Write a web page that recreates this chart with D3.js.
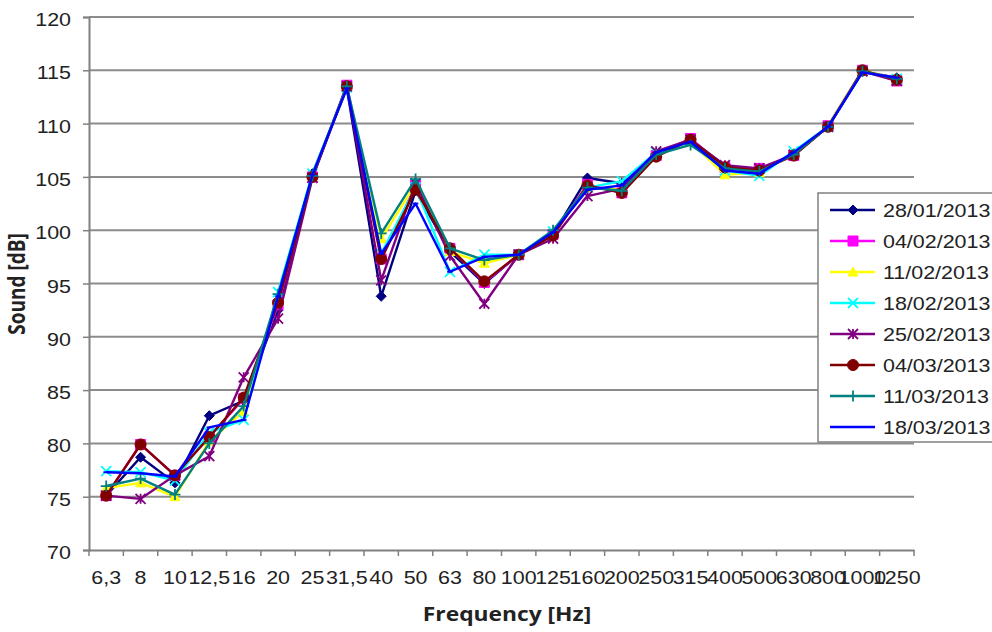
<!DOCTYPE html>
<html><head><meta charset="utf-8">
<script src="https://cdn.jsdelivr.net/npm/d3@7"></script>
<style>body{margin:0;background:#fff;}svg{display:block;}</style>
</head><body>
<svg id="c" width="992" height="632"></svg>
<script>
const categories = ["6,3","8","10","12,5","16","20","25","31,5","40","50","63","80","100","125","160","200","250","315","400","500","630","800","1000","1250"];
const seriesNames = ["28/01/2013","04/02/2013","11/02/2013","18/02/2013","25/02/2013","04/03/2013","11/03/2013","18/03/2013"];
const s2801 = [75.1,78.7,76.3,82.6,84.0,92.5,105.3,113.3,93.8,103.7,98.0,95.0,97.7,99.6,104.9,104.4,107.2,108.5,106.0,105.5,107.2,109.7,114.9,114.3];
const s0402 = [75.1,79.9,77.0,80.6,84.2,93.0,105.0,113.6,97.3,104.2,98.3,95.1,97.7,99.6,104.3,103.5,107.0,108.6,105.9,105.8,107.0,109.8,115.0,114.0];
const s1102 = [75.8,76.3,75.0,80.2,83.0,93.5,105.0,113.5,99.2,104.3,98.0,96.9,97.7,99.8,104.0,103.8,107.1,108.3,105.2,105.4,107.2,109.8,115.0,114.2];
const s1802 = [77.4,77.3,76.5,81.0,82.2,94.2,105.3,113.4,97.8,104.0,96.1,97.7,97.7,99.9,104.0,104.6,107.3,108.3,105.6,105.1,107.4,109.7,114.9,114.2];
const s2502 = [75.1,74.8,77.0,78.8,86.2,91.7,104.9,113.5,95.3,104.4,97.6,93.1,97.7,99.2,103.2,103.9,107.4,108.5,106.1,105.8,107.1,109.7,114.9,114.0];
const s0403 = [75.1,79.9,77.0,80.6,84.3,93.2,105.0,113.5,97.3,103.8,98.3,95.2,97.7,99.5,104.2,103.5,106.9,108.5,105.9,105.6,107.0,109.7,115.0,114.1];
const s1103 = [76.0,76.7,75.2,80.0,83.5,94.0,105.1,113.5,99.7,104.8,98.3,97.2,97.7,100.0,104.0,103.7,107.1,108.0,105.8,105.5,107.1,109.7,114.9,114.2];
const s1803 = [77.3,77.2,76.9,81.5,82.2,93.8,105.2,113.3,97.8,102.5,96.1,97.5,97.7,99.8,103.8,104.2,107.3,108.3,105.6,105.3,107.3,109.7,114.8,114.3];
const yTicks = [70,75,80,85,90,95,100,105,110,115,120];

const allSeries = [s2801,s0402,s1102,s1802,s2502,s0403,s1103,s1803];
const colors = ["#000080","#ff00ff","#ffff00","#00ffff","#800080","#800000","#008080","#0000ff"];
const markers = ["diamond","square","triangle","x","star","circle","plus","dash"];

const svg = d3.select("#c");
const L = 89, R = 914, T = 17, B = 550;
const x = d3.scaleBand().domain(categories).range([L, R]);
const y = d3.scaleLinear().domain([70,120]).range([B, T]);
const SX = 1.13;
const FONT = "Liberation Sans, Arial, sans-serif";

function stretchedText(g, px, py, txt, opts) {
  return g.append("text")
    .attr("transform", `translate(${px},${py}) scale(${opts.sx || SX},1)`)
    .attr("text-anchor", opts.anchor || "start")
    .attr("font-family", opts.family || FONT)
    .attr("font-weight", opts.weight || "normal")
    .attr("font-size", opts.size || 19)
    .attr("fill", "#222").text(txt);
}

// gridlines
svg.append("g").selectAll("line").data(yTicks.filter(v=>v>70)).join("line")
  .attr("x1", L).attr("x2", R).attr("y1", d=>y(d)).attr("y2", d=>y(d))
  .attr("stroke", "#8c8c8c").attr("stroke-width", 2);

// y axis
const ya = svg.append("g").attr("transform", `translate(${L},0)`)
  .call(d3.axisLeft(y).tickValues(yTicks).tickSize(6).tickFormat(""));
ya.select(".domain").attr("stroke", "#808080").attr("stroke-width", 2);
ya.selectAll(".tick line").attr("stroke", "#808080").attr("stroke-width", 1.5);
const yl = svg.append("g");
yTicks.forEach(v => stretchedText(yl, 71, y(v) + 9, d3.format("d")(v), {anchor: "end"}));

// x axis
const xa = svg.append("g").attr("transform", `translate(0,${B})`)
  .call(d3.axisBottom(x).tickSize(0).tickFormat(""));
xa.select(".domain").attr("stroke", "#808080").attr("stroke-width", 2);
svg.append("g").selectAll("line").data(d3.range(categories.length + 1)).join("line")
  .attr("x1", i => L + i * x.step()).attr("x2", i => L + i * x.step())
  .attr("y1", B).attr("y2", B + 6).attr("stroke", "#808080").attr("stroke-width", 1.5);
const xl = svg.append("g");
categories.forEach(c => stretchedText(xl, x(c) + x.bandwidth()/2, 584, c, {anchor: "middle"}));

function markerPath(type, s) {
  const h = s / 2;
  switch (type) {
    case "diamond": return `M0,${-h}L${h},0L0,${h}L${-h},0Z`;
    case "square": return `M${-h},${-h}H${h}V${h}H${-h}Z`;
    case "triangle": return `M0,${-h}L${h},${h*0.8}L${-h},${h*0.8}Z`;
    case "x": return `M${-h},${-h}L${h},${h}M${-h},${h}L${h},${-h}`;
    case "star": return `M${-h},${-h}L${h},${h}M${-h},${h}L${h},${-h}M0,${-h}V${h}`;
    case "circle": return `M${h},0A${h},${h} 0 1,1 ${-h},0A${h},${h} 0 1,1 ${h},0Z`;
    case "plus": return `M0,${-h}V${h}M${-h},0H${h}`;
    case "dash": return `M${-h*0.7},0H${h*0.7}`;
  }
}
const filled = {diamond:true, square:true, triangle:true, circle:true};
const msize = {diamond:10, square:10, triangle:10, x:10, star:10, circle:11, plus:11, dash:8};

const line = d3.line().x((d,i) => x(categories[i]) + x.bandwidth()/2).y(d => y(d));
allSeries.forEach((vals, si) => {
  const g = svg.append("g");
  g.append("path").datum(vals).attr("d", line).attr("fill", "none")
    .attr("stroke", colors[si]).attr("stroke-width", 2.4).attr("stroke-linejoin", "round");
  const m = markers[si];
  g.selectAll("path.m").data(vals).join("path").attr("class", "m")
    .attr("transform", (d,i) => `translate(${x(categories[i]) + x.bandwidth()/2},${y(d)})`)
    .attr("d", markerPath(m, msize[m]))
    .attr("fill", filled[m] ? colors[si] : "none")
    .attr("stroke", colors[si]).attr("stroke-width", filled[m] ? 1 : 1.8);
});

// axis titles
stretchedText(svg, 507, 621, "Frequency [Hz]", {anchor: "middle", family: "Open Sans, sans-serif", weight: "bold", size: 19, sx: 1.2});
svg.append("text").attr("transform", "translate(25,284) rotate(-90) scale(1,1.2)").attr("text-anchor", "middle")
  .attr("font-family", "Open Sans, sans-serif").attr("font-weight", "bold").attr("font-size", 19)
  .attr("fill", "#222").text("Sound [dB]");

// legend
const lg = svg.append("g").attr("transform", "translate(818,193)");
lg.append("rect").attr("x", 0).attr("y", 0).attr("width", 190).attr("height", 249)
  .attr("fill", "#fff").attr("stroke", "#808080").attr("stroke-width", 1.5);
seriesNames.forEach((name, i) => {
  const yy = 17 + i * 31;
  lg.append("line").attr("x1", 12).attr("x2", 57).attr("y1", yy).attr("y2", yy)
    .attr("stroke", colors[i]).attr("stroke-width", 2.4);
  const m = markers[i];
  lg.append("path").attr("transform", `translate(35,${yy})`).attr("d", markerPath(m, msize[m]))
    .attr("fill", filled[m] ? colors[i] : "none").attr("stroke", colors[i]).attr("stroke-width", filled[m] ? 1 : 1.8);
  stretchedText(lg, 65, yy + 7, name, {});
});
</script>
</body></html>
